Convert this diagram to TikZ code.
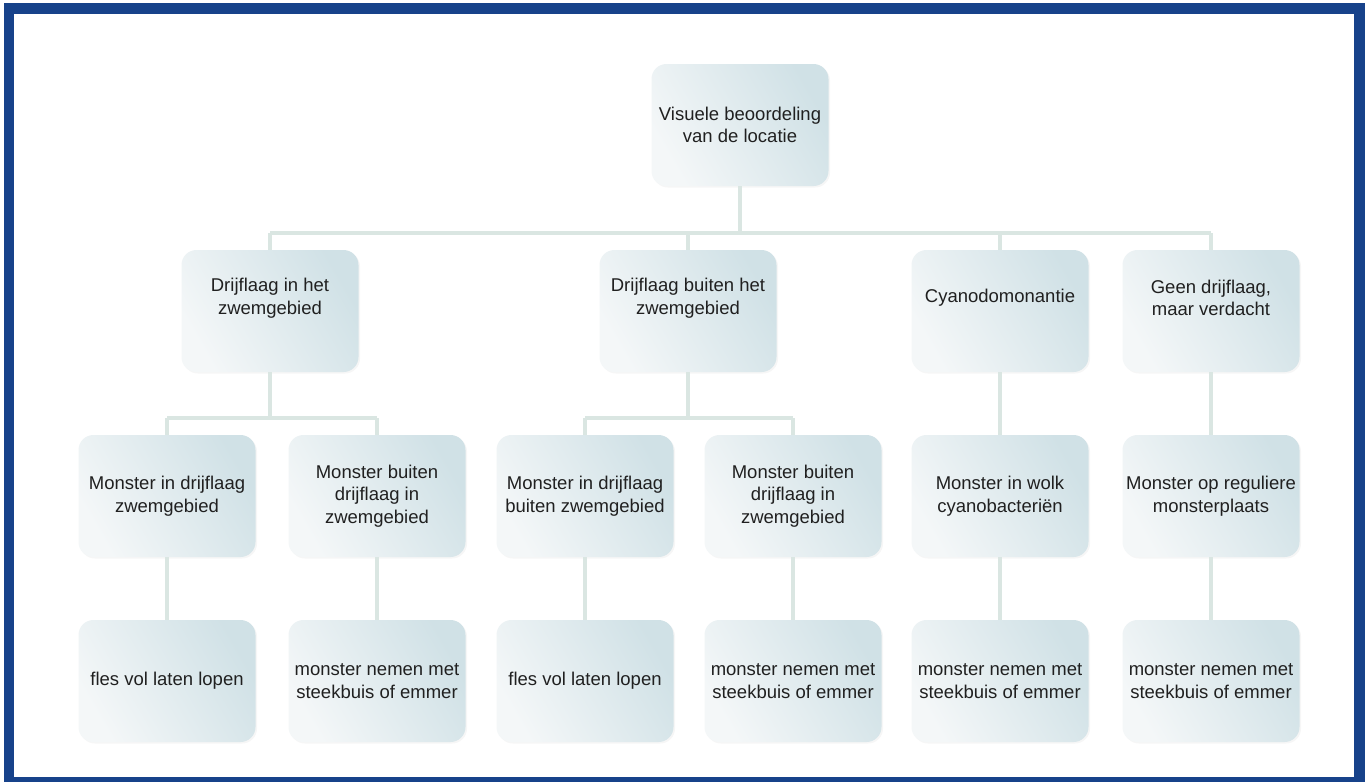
\documentclass[tikz,border=0pt]{standalone}
\usepackage{fontspec}
\setmainfont{Liberation Sans}
\usetikzlibrary{shadows}
\definecolor{frameblue}{HTML}{17428A}
\definecolor{boxlight}{HTML}{F4F7F8}
\definecolor{boxdark}{HTML}{D0E1E6}
\definecolor{conn}{HTML}{DAE6E2}
\definecolor{txt}{HTML}{202020}
\tikzset{
  box/.style={rounded corners=15pt, minimum width=177pt, minimum height=122pt,
    left color=boxlight, right color=boxdark, shading angle=120,
    drop shadow={opacity=0.07, shadow xshift=1.5pt, shadow yshift=-1.5pt},
    align=center, text=txt, inner sep=2pt,
    font=\fontsize{18.5}{22.5}\selectfont},
  uptext/.style={label={[text=txt, align=center, yshift=13pt, font=\fontsize{18.5}{22.5}\selectfont]center:#1}},
  link/.style={draw=conn, line width=4pt}
}
\begin{document}
\begin{tikzpicture}[x=1pt,y=-1pt]
\useasboundingbox (0,0) rectangle (1368,782);
\fill[white] (0,0) rectangle (1368,782);
\fill[frameblue] (4,3) rectangle (1365,782);
\fill[white] (14,14) rectangle (1354,777);

\coordinate (bus) at (0,233);
\coordinate (busa) at (0,418);

\node[box] (top) at (740,125) {Visuele beoordeling\\van de locatie};

\node[box, uptext={Drijflaag in het\\zwemgebied}] (a) at (270,311) {};
\node[box, uptext={Drijflaag buiten het\\zwemgebied}] (b) at (688,311) {};
\node[box, uptext={Cyanodomonantie}] (c) at (1000,311) {};
\node[box, uptext={Geen drijflaag,\\maar verdacht}] (d) at (1211,311) {};

\node[box] (a1) at (167,496) {Monster in drijflaag\\zwemgebied};
\node[box] (a2) at (377,496) {Monster buiten\\drijflaag in\\zwemgebied};
\node[box] (b1) at (585,496) {Monster in drijflaag\\buiten zwemgebied};
\node[box] (b2) at (793,496) {Monster buiten\\drijflaag in\\zwemgebied};
\node[box] (c1) at (1000,496) {Monster in wolk\\cyanobacteriën};
\node[box] (d1) at (1211,496) {Monster op reguliere\\monsterplaats};

\node[box] (a1x) at (167,681) {fles vol laten lopen};
\node[box] (a2x) at (377,681) {monster nemen met\\steekbuis of emmer};
\node[box] (b1x) at (585,681) {fles vol laten lopen};
\node[box] (b2x) at (793,681) {monster nemen met\\steekbuis of emmer};
\node[box] (c1x) at (1000,681) {monster nemen met\\steekbuis of emmer};
\node[box] (d1x) at (1211,681) {monster nemen met\\steekbuis of emmer};

\draw[link] (top.south) -- (top.south |- bus);
\draw[link] (a.north |- bus) -- (d.north |- bus);
\foreach \n in {a,b,c,d} \draw[link] (\n.north |- bus) -- (\n.north);
\draw[link] (a.south) -- (a.south |- busa);
\draw[link] (b.south) -- (b.south |- busa);
\draw[link] (a1.north |- busa) -- (a2.north |- busa);
\draw[link] (b1.north |- busa) -- (b2.north |- busa);
\foreach \n in {a1,a2,b1,b2} \draw[link] (\n.north |- busa) -- (\n.north);
\draw[link] (c.south) -- (c1.north);
\draw[link] (d.south) -- (d1.north);
\foreach \n in {a1,a2,b1,b2,c1,d1} \draw[link] (\n.south) -- (\n x.north);
\end{tikzpicture}
\end{document}
